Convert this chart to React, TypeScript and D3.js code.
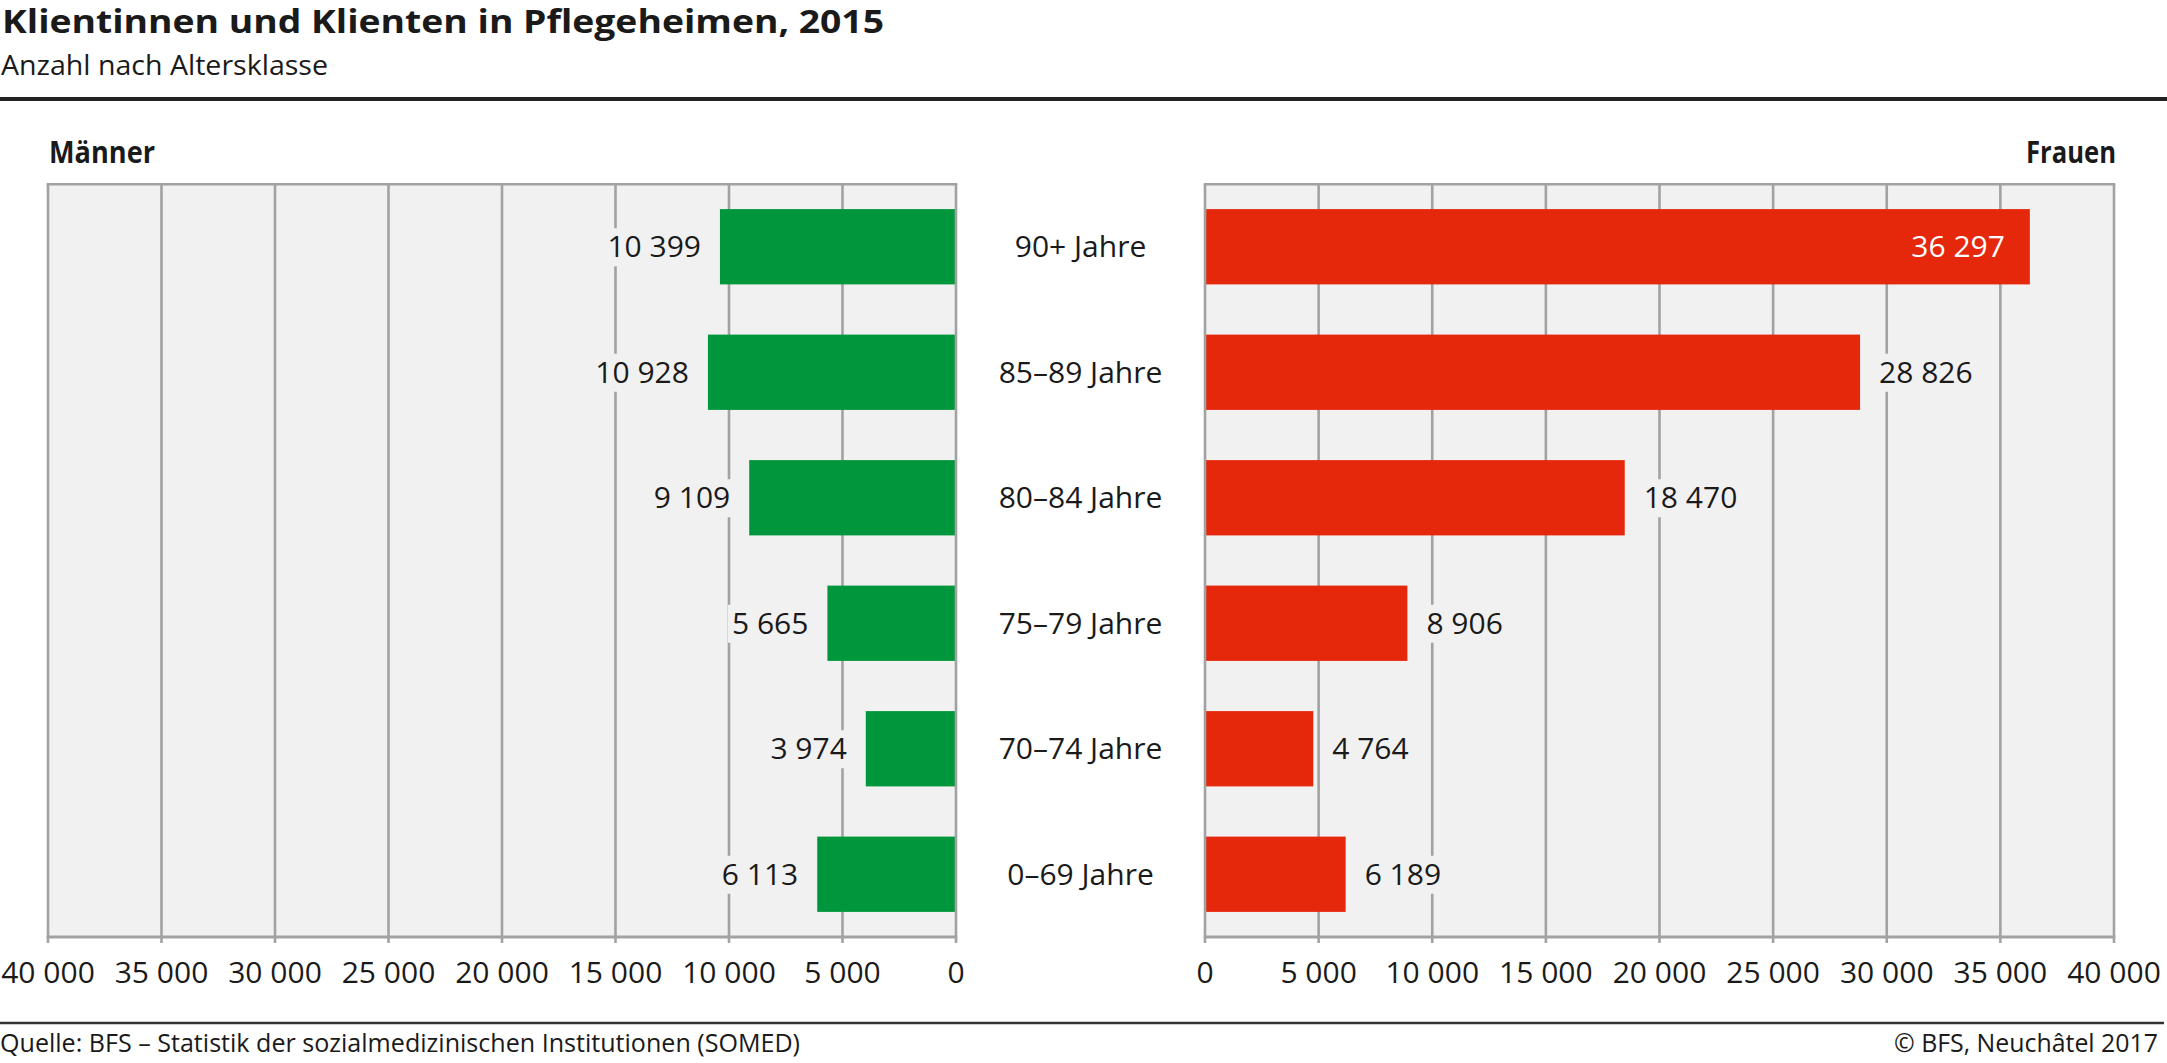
import React, { useEffect, useRef } from "react";
import * as d3 from "d3";

const categories = ["90+ Jahre", "85–89 Jahre", "80–84 Jahre", "75–79 Jahre", "70–74 Jahre", "0–69 Jahre"];
const maenner = [10399, 10928, 9109, 5665, 3974, 6113];
const frauen = [36297, 28826, 18470, 8906, 4764, 6189];
const tickValues = [0, 5000, 10000, 15000, 20000, 25000, 30000, 35000, 40000];

const TITLE = "Klientinnen und Klienten in Pflegeheimen, 2015";
const SUBTITLE = "Anzahl nach Altersklasse";
const SOURCE = "Quelle: BFS – Statistik der sozialmedizinischen Institutionen (SOMED)";
const COPYRIGHT = "© BFS, Neuchâtel 2017";

const W = 2167;
const H = 1063;
const FONT = "'Open Sans', 'DejaVu Sans', sans-serif";
const TXT = "#1a1a1a";
const GRID = "#a2a2a2";
const BG = "#f1f1f1";
const GREEN = "#00963c";
const RED = "#e5270c";

export default function App() {
  const ref = useRef<SVGSVGElement | null>(null);

  useEffect(() => {
    const svg = d3.select(ref.current);
    svg.selectAll("*").remove();

    const fmt = d3.formatLocale({ decimal: ",", thousands: " ", grouping: [3], currency: ["", ""] }).format(",");

    const top = 184;
    const bottom = 937;
    const y = d3.scaleBand<string>().domain(categories).range([top, bottom]).paddingInner(0.4).paddingOuter(0.2);

    const xL = d3.scaleLinear().domain([0, 40000]).range([956, 48]);
    const xR = d3.scaleLinear().domain([0, 40000]).range([1205, 2114]);

    // Title & subtitle
    svg.append("text").attr("x", 2).attr("y", 33).attr("font-family", FONT).attr("font-weight", 700)
      .attr("font-size", 32).attr("fill", TXT).attr("textLength", 882).attr("lengthAdjust", "spacingAndGlyphs").text(TITLE);
    svg.append("text").attr("x", 1).attr("y", 75).attr("font-family", FONT).attr("font-weight", 400)
      .attr("font-size", 28).attr("fill", TXT).attr("textLength", 327).attr("lengthAdjust", "spacingAndGlyphs").text(SUBTITLE);
    svg.append("line").attr("x1", 0).attr("x2", W).attr("y1", 99).attr("y2", 99).attr("stroke", "#222").attr("stroke-width", 4);

    // Panel headers
    svg.append("text").attr("x", 49).attr("y", 163).attr("font-family", FONT).attr("font-weight", 700)
      .attr("font-size", 31).attr("fill", TXT).attr("textLength", 106).attr("lengthAdjust", "spacingAndGlyphs").text("Männer");
    svg.append("text").attr("x", 2116 - 90).attr("y", 163).attr("font-family", FONT).attr("font-weight", 700)
      .attr("font-size", 31).attr("fill", TXT).attr("textLength", 90).attr("lengthAdjust", "spacingAndGlyphs").text("Frauen");

    const panels = [
      { x: xL, data: maenner, color: GREEN, dir: -1 },
      { x: xR, data: frauen, color: RED, dir: 1 },
    ];

    panels.forEach((p) => {
      const g = svg.append("g");
      const [r0, r1] = p.x.range();
      const lo = Math.min(r0, r1);
      const hi = Math.max(r0, r1);
      g.append("rect").attr("x", lo).attr("y", top).attr("width", hi - lo).attr("height", bottom - top).attr("fill", BG);
      // grid
      g.selectAll(".grid").data(tickValues.filter((t) => t !== 0)).enter().append("line")
        .attr("x1", (d) => p.x(d)).attr("x2", (d) => p.x(d)).attr("y1", top).attr("y2", bottom + 6)
        .attr("stroke", GRID).attr("stroke-width", 2.6);
      g.append("line").attr("x1", lo - 1.3).attr("x2", hi + 1.3).attr("y1", top + 0.3).attr("y2", top + 0.3)
        .attr("stroke", GRID).attr("stroke-width", 2.6);
      // bars
      g.selectAll(".bar").data(p.data).enter().append("rect")
        .attr("x", (d) => Math.min(p.x(0), p.x(d)))
        .attr("width", (d) => Math.abs(p.x(d) - p.x(0)))
        .attr("y", (_d, i) => y(categories[i]) as number)
        .attr("height", y.bandwidth())
        .attr("fill", p.color);
      // zero line and axis
      g.append("line").attr("x1", p.x(0)).attr("x2", p.x(0)).attr("y1", top).attr("y2", bottom + 6)
        .attr("stroke", GRID).attr("stroke-width", 2.6);
      g.append("line").attr("x1", lo - 1.3).attr("x2", hi + 1.3).attr("y1", bottom).attr("y2", bottom)
        .attr("stroke", GRID).attr("stroke-width", 3);
      // tick labels
      g.selectAll(".tick").data(tickValues).enter().append("text")
        .attr("x", (d) => p.x(d)).attr("y", 983).attr("text-anchor", "middle")
        .attr("font-family", FONT).attr("font-size", 30).attr("fill", TXT).text((d) => fmt(d));
      // value labels
      p.data.forEach((v, i) => {
        const cy = (y(categories[i]) as number) + y.bandwidth() / 2;
        const base = cy + 10.5;
        const end = p.x(v);
        const t = g.append("text").attr("y", base).attr("font-family", FONT).attr("font-size", 30).text(fmt(v));
        const w = (t.node() as SVGTextElement).getComputedTextLength();
        const gap = 19;
        if (p.dir === 1) {
          if (end + gap + w > hi - 4) {
            t.attr("x", end - 25).attr("text-anchor", "end").attr("fill", "#ffffff");
          } else {
            t.attr("x", end + gap).attr("text-anchor", "start").attr("fill", TXT);
            g.insert("rect", "text").attr("x", end + gap - 4).attr("y", base - 29).attr("width", w + 8).attr("height", 38).attr("fill", BG);
          }
        } else {
          if (end - gap - w < lo + 4) {
            t.attr("x", end + 25).attr("text-anchor", "start").attr("fill", "#ffffff");
          } else {
            t.attr("x", end - gap).attr("text-anchor", "end").attr("fill", TXT);
            g.insert("rect", "text").attr("x", end - gap - w - 4).attr("y", base - 29).attr("width", w + 8).attr("height", 38).attr("fill", BG);
          }
        }
      });
    });

    // category labels
    const cx = (956 + 1205) / 2;
    svg.selectAll(".cat").data(categories).enter().append("text")
      .attr("x", cx).attr("y", (d) => (y(d) as number) + y.bandwidth() / 2 + 10.5)
      .attr("text-anchor", "middle").attr("font-family", FONT).attr("font-size", 30).attr("fill", TXT).text((d) => d);

    // footer
    svg.append("line").attr("x1", 0).attr("x2", 2164).attr("y1", 1023).attr("y2", 1023).attr("stroke", "#333").attr("stroke-width", 2.5);
    svg.append("text").attr("x", 0).attr("y", 1052).attr("font-family", FONT).attr("font-size", 25).attr("fill", TXT)
      .attr("textLength", 800).attr("lengthAdjust", "spacingAndGlyphs").text(SOURCE);
    svg.append("text").attr("x", 2158 - 264).attr("y", 1052).attr("font-family", FONT).attr("font-size", 25).attr("fill", TXT)
      .attr("textLength", 264).attr("lengthAdjust", "spacingAndGlyphs").text(COPYRIGHT);
  }, []);

  return (
    <svg
      ref={ref}
      width={W}
      height={H}
      viewBox={`0 0 ${W} ${H}`}
      style={{ position: "absolute", left: 0, top: 0, background: "#ffffff", display: "block" }}
    />
  );
}
